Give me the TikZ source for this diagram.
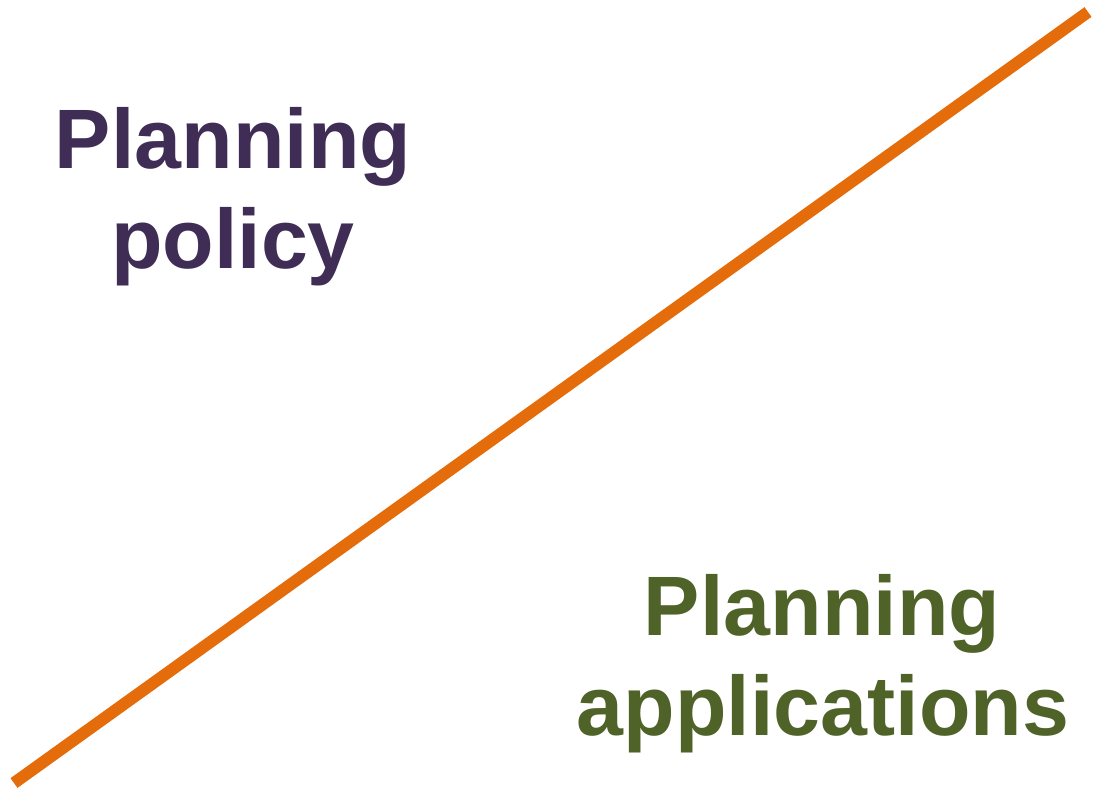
\documentclass[tikz,border=0pt]{standalone}
\usepackage{fontspec}
\setmainfont{Liberation Sans}
\definecolor{policypurple}{HTML}{3F2D56}
\definecolor{appsgreen}{HTML}{4F6228}
\definecolor{lineorange}{HTML}{E46C0A}
\tikzset{
  bigtext/.style = {font = \fontsize{48}{56}\selectfont\bfseries, inner sep = 0pt, anchor = base}
}
\begin{document}
\begin{tikzpicture}[x = 0.02cm, y = -0.02cm]
            \useasboundingbox (0, 0) rectangle (1095, 792);
            \node [bigtext, text = policypurple] (policytop) at (233, 168) {Planning};
            \node [bigtext, text = policypurple] (policybottom) at (233, 268) {policy};
            \node [bigtext, text = appsgreen] (appstop) at (822, 635) {Planning};
            \node [bigtext, text = appsgreen] (appsbottom) at (823, 735) {applications};
            \coordinate (lowend) at (14, 783);
            \coordinate (highend) at (1088, 12);
            \draw [lineorange, line width = 6.8pt] (lowend) -- (highend);
        \end{tikzpicture}
\end{document}
